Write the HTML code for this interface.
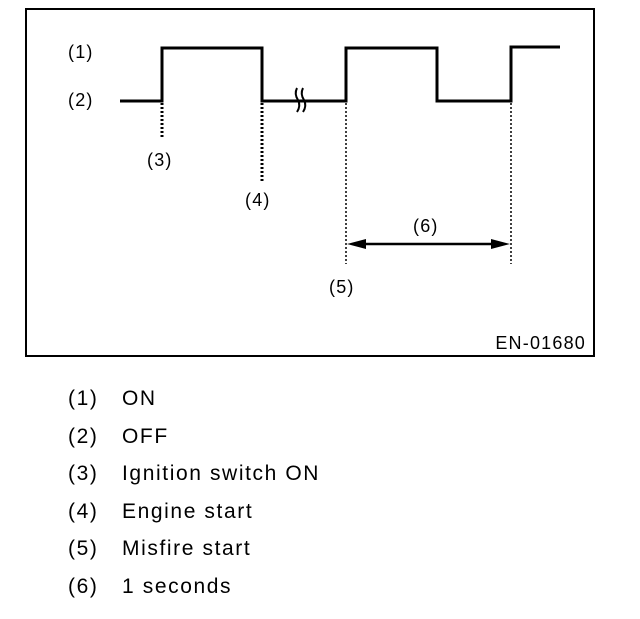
<!DOCTYPE html>
<html><head><style>
body{margin:0;background:#fff;width:640px;height:614px;overflow:hidden}
svg text{font-family:"Liberation Sans",sans-serif;fill:#000}
</style></head><body>
<svg width="640" height="614" xmlns="http://www.w3.org/2000/svg">
<rect x="26" y="9" width="568" height="347" fill="none" stroke="#000" stroke-width="2"/>
<g font-size="18" letter-spacing="1.2">
<text x="68" y="58">(1)</text>
<text x="68" y="106">(2)</text>
<text x="147" y="166">(3)</text>
<text x="245" y="206">(4)</text>
<text x="329" y="293">(5)</text>
<text x="413" y="232">(6)</text>
<text x="586" y="349" text-anchor="end">EN-01680</text>
</g>
<polyline points="120,101 162,101 162,48 262,48 262,101 346,101 346,48 437,48 437,101 511,101 511,47 560,47" fill="none" stroke="#000" stroke-width="3"/>
<line x1="120" y1="101" x2="162" y2="101" stroke="#000" stroke-width="2"/>
<path d="M297,88 q-3,6 1,12 q3,6 -1,12 M303,88 q-3,6 1,12 q3,6 -1,12" fill="none" stroke="#000" stroke-width="2"/>
<g stroke="#000" stroke-dasharray="2,2">
<line x1="162" y1="103" x2="162" y2="137" stroke-width="3"/>
<line x1="262" y1="103" x2="262" y2="182" stroke-width="3"/>
<line x1="346" y1="103" x2="346" y2="264" stroke-width="1.5"/>
<line x1="511" y1="103" x2="511" y2="264" stroke-width="1.5"/>
</g>
<line x1="360" y1="244" x2="497" y2="244" stroke="#000" stroke-width="2.5"/>
<polygon points="347,244 366,239 366,249" fill="#000"/>
<polygon points="510,244 491,239 491,249" fill="#000"/>
<g font-size="21" letter-spacing="1.6">
<text x="68" y="405">(1)</text><text x="122" y="405">ON</text>
<text x="68" y="443">(2)</text><text x="122" y="443">OFF</text>
<text x="68" y="480">(3)</text><text x="122" y="480">Ignition switch ON</text>
<text x="68" y="518">(4)</text><text x="122" y="518">Engine start</text>
<text x="68" y="555">(5)</text><text x="122" y="555">Misfire start</text>
<text x="68" y="593">(6)</text><text x="122" y="593">1 seconds</text>
</g>
</svg>
</body></html>
